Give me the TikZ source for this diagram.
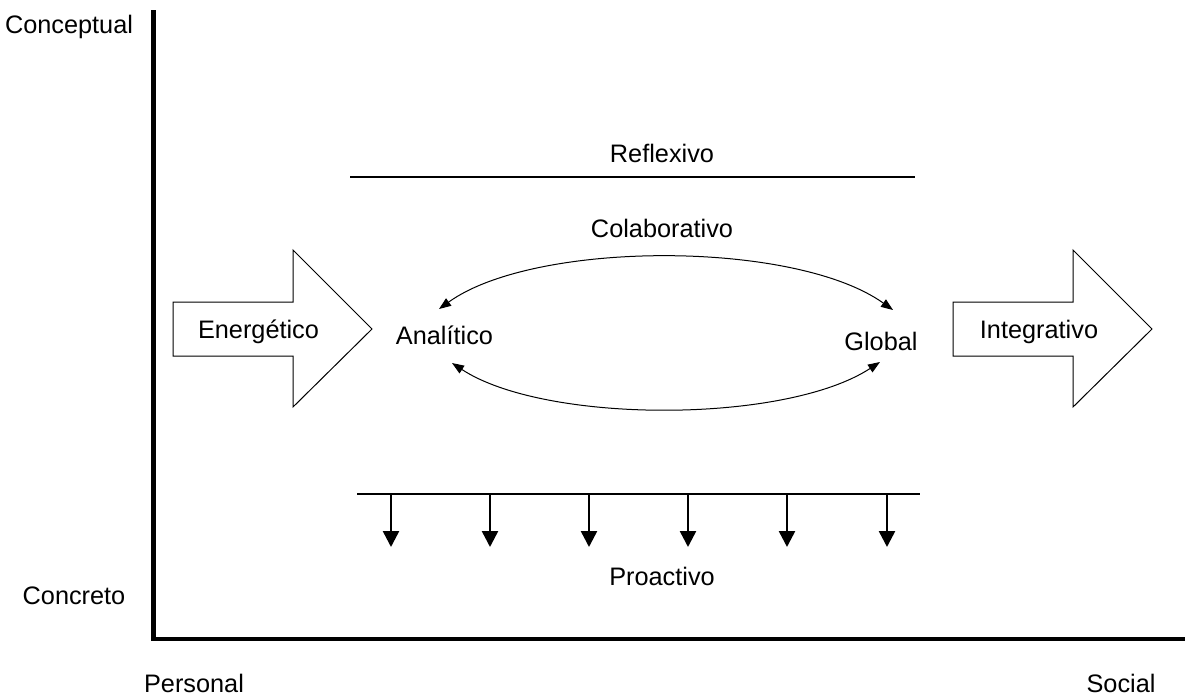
\documentclass[tikz,border=0pt]{standalone}
\usepackage{fontspec}
\setmainfont{Liberation Sans}
\usetikzlibrary{arrows.meta}
\begin{document}
\begin{tikzpicture}[x=1pt,y=-1pt,
  lbl/.style={inner sep=0pt,anchor=base,font=\fontsize{25.3}{30}\selectfont},
  axis/.style={line width=4.2pt},
  bigarrow/.style={draw,line width=1pt,fill=white,line join=miter},
  swing/.style={line width=1pt,{Triangle[length=12pt,width=9pt]}-{Triangle[length=12pt,width=9pt]}},
  push/.style={line width=2.5pt,-{Triangle[length=16pt,width=16pt]}}]
\useasboundingbox (0,0) rectangle (1185,696);

% axes
\coordinate (top) at (153.5,10);
\coordinate (origin) at (153.5,639);
\coordinate (right) at (1185,639);
\draw[axis,line cap=butt,line join=miter] (top) -- (origin) -- (right);

% axis labels (baselines)
\node[lbl] (conceptual) at (69,33) {Conceptual};
\node[lbl] (concreto) at (74,604) {Concreto};
\node[lbl] (personal) at (194,692) {Personal};
\node[lbl] (social) at (1121,692) {Social};

% block arrows
\draw[bigarrow] (173,302) -- (293,302) -- (293,250) -- (372,329) -- (293,407) -- (293,356) -- (173,356) -- cycle;
\node[lbl] (energetico) at (258.5,338) {Energético};
\draw[bigarrow] (953,302) -- (1073,302) -- (1073,250) -- (1152,329) -- (1073,407) -- (1073,356) -- (953,356) -- cycle;
\node[lbl] (integrativo) at (1039,338) {Integrativo};

% reflexive bar
\coordinate (refL) at (350,177);
\coordinate (refR) at (915,177);
\draw[line width=2pt] (refL) -- (refR);
\node[lbl] (reflexivo) at (662,162) {Reflexivo};

% styles in the middle
\node[lbl] (analitico) at (444.5,344) {Analítico};
\node[lbl] (global) at (881,350) {Global};
\node[lbl] (colaborativo) at (662,237) {Colaborativo};

\coordinate (aTop) at (439,309);
\coordinate (gTop) at (893,310);
\coordinate (aBot) at (452,363);
\coordinate (gBot) at (880,362);
\draw[swing] (aTop) .. controls (535,240) and (795,240) .. (gTop);
\draw[swing] (aBot) .. controls (545,424) and (785,424) .. (gBot);

% proactive bar with downward arrows
\coordinate (proL) at (357,494);
\coordinate (proR) at (920,494);
\draw[line width=2.8pt] (proL) -- (proR);
\foreach \i/\x in {1/391,2/490,3/589,4/688,5/787,6/887}{
  \coordinate (up\i) at (\x,494);
  \coordinate (dn\i) at (\x,547);
  \draw[push] (up\i) -- (dn\i);
}
\node[lbl] (proactivo) at (662,585) {Proactivo};
\end{tikzpicture}
\end{document}
